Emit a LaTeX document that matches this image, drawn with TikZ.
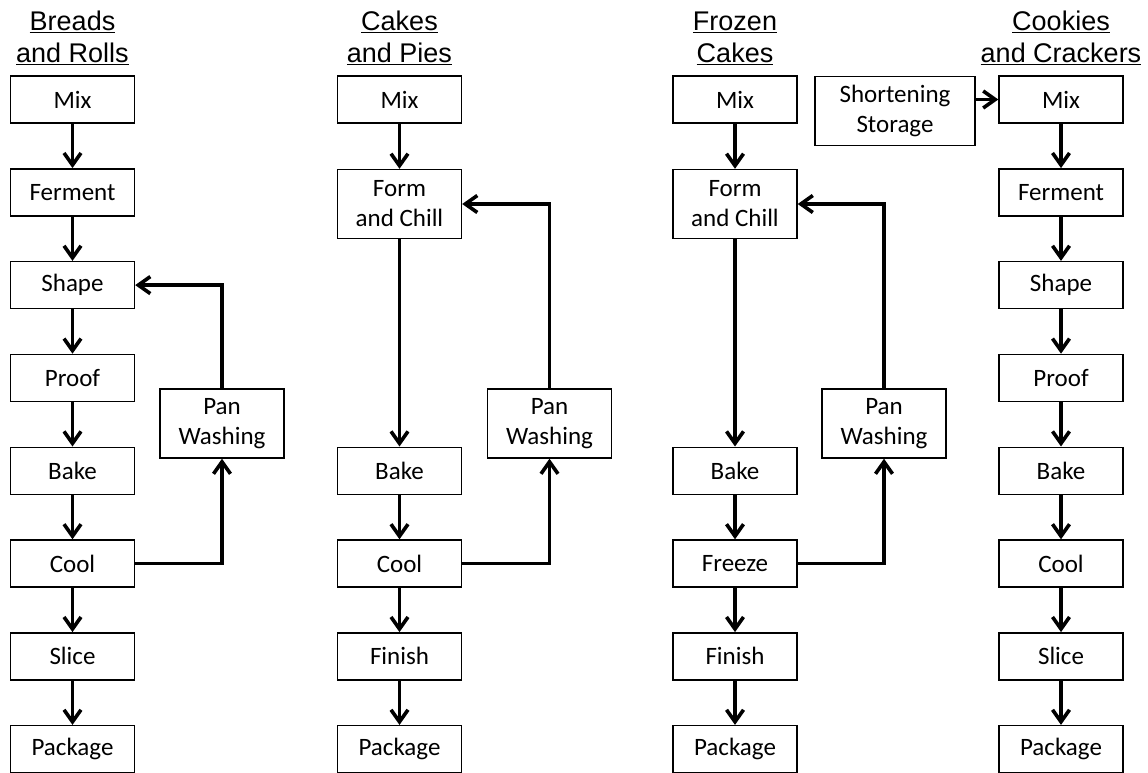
\documentclass[tikz,border=0pt]{standalone}
\usepackage{fontspec}
\setmainfont{Carlito}
\newfontfamily\titlefont{Liberation Sans}
\usetikzlibrary{arrows.meta}
\begin{document}
\begin{tikzpicture}[x=1pt,y=-1pt,
  box/.style={draw=black, line width=1.4pt, minimum width=124pt, minimum height=47pt,
    inner sep=0pt, align=center, font=\fontsize{25}{30}\selectfont},
  tallbox/.style={box, minimum height=69pt},
  ttl/.style={anchor=base, inner sep=0pt, font=\titlefont\fontsize{27}{32}\selectfont},
  arr/.style={line width=3.6pt, -{Straight Barb[length=12pt,width=17pt]}}]
\useasboundingbox (0,0) rectangle (1148,773);
% titles
\node[ttl] (t1a) at (72.5,31) {\underline{Breads}};
\node[ttl] (t1b) at (72.5,63) {\underline{and Rolls}};
\node[ttl] (t2a) at (399.5,31) {\underline{Cakes}};
\node[ttl] (t2b) at (399.5,63) {\underline{and Pies}};
\node[ttl] (t3a) at (735,31) {\underline{Frozen}};
\node[ttl] (t3b) at (735,63) {\underline{Cakes}};
\node[ttl] (t4a) at (1061,31) {\underline{Cookies}};
\node[ttl] (t4b) at (1061,63) {\underline{and Crackers}};
% column 1
\node[box] (mix1) at (72.5,99.5) {Mix};
\node[box] (fer1) at (72.5,192.3) {Ferment};
\node[box] (sha1) at (72.5,285.1) {Shape};
\node[box] (pro1) at (72.5,377.9) {Proof};
\node[box] (bak1) at (72.5,470.7) {Bake};
\node[box] (coo1) at (72.5,563.5) {Cool};
\node[box] (sli1) at (72.5,656.3) {Slice};
\node[box] (pac1) at (72.5,749.1) {Package};
\node[tallbox] (pw1) at (222,423.5) {Pan\\Washing};
\foreach \a/\b in {mix1/fer1,fer1/sha1,sha1/pro1,pro1/bak1,bak1/coo1,coo1/sli1,sli1/pac1}
  \draw[arr] (\a.south) -- (\b.north);
\draw[arr] (coo1.east) -| (pw1.south);
\draw[arr] (pw1.north) |- (sha1.east);
% column 2
\node[box] (mix2) at (399.5,99.5) {Mix};
\node[tallbox] (frm2) at (399.5,204) {Form\\and Chill};
\node[box] (bak2) at (399.5,470.7) {Bake};
\node[box] (coo2) at (399.5,563.5) {Cool};
\node[box] (fin2) at (399.5,656.3) {Finish};
\node[box] (pac2) at (399.5,749.1) {Package};
\node[tallbox] (pw2) at (549.5,423.5) {Pan\\Washing};
\foreach \a/\b in {mix2/frm2,frm2/bak2,bak2/coo2,coo2/fin2,fin2/pac2}
  \draw[arr] (\a.south) -- (\b.north);
\draw[arr] (coo2.east) -| (pw2.south);
\draw[arr] (pw2.north) |- (frm2.east);
% column 3
\node[box] (mix3) at (735,99.5) {Mix};
\node[tallbox] (frm3) at (735,204) {Form\\and Chill};
\node[box] (bak3) at (735,470.7) {Bake};
\node[box] (frz3) at (735,563.5) {Freeze};
\node[box] (fin3) at (735,656.3) {Finish};
\node[box] (pac3) at (735,749.1) {Package};
\node[tallbox] (pw3) at (884,423.5) {Pan\\Washing};
\foreach \a/\b in {mix3/frm3,frm3/bak3,bak3/frz3,frz3/fin3,fin3/pac3}
  \draw[arr] (\a.south) -- (\b.north);
\draw[arr] (frz3.east) -| (pw3.south);
\draw[arr] (pw3.north) |- (frm3.east);
% column 4
\node[tallbox, minimum width=160pt] (sho4) at (895,111) {Shortening\\Storage};
\node[box] (mix4) at (1061,99.5) {Mix};
\node[box] (fer4) at (1061,192.3) {Ferment};
\node[box] (sha4) at (1061,285.1) {Shape};
\node[box] (pro4) at (1061,377.9) {Proof};
\node[box] (bak4) at (1061,470.7) {Bake};
\node[box] (coo4) at (1061,563.5) {Cool};
\node[box] (sli4) at (1061,656.3) {Slice};
\node[box] (pac4) at (1061,749.1) {Package};
\foreach \a/\b in {mix4/fer4,fer4/sha4,sha4/pro4,pro4/bak4,bak4/coo4,coo4/sli4,sli4/pac4}
  \draw[arr] (\a.south) -- (\b.north);
\draw[arr] (sho4.east |- mix4.west) -- (mix4.west);
\end{tikzpicture}
\end{document}
